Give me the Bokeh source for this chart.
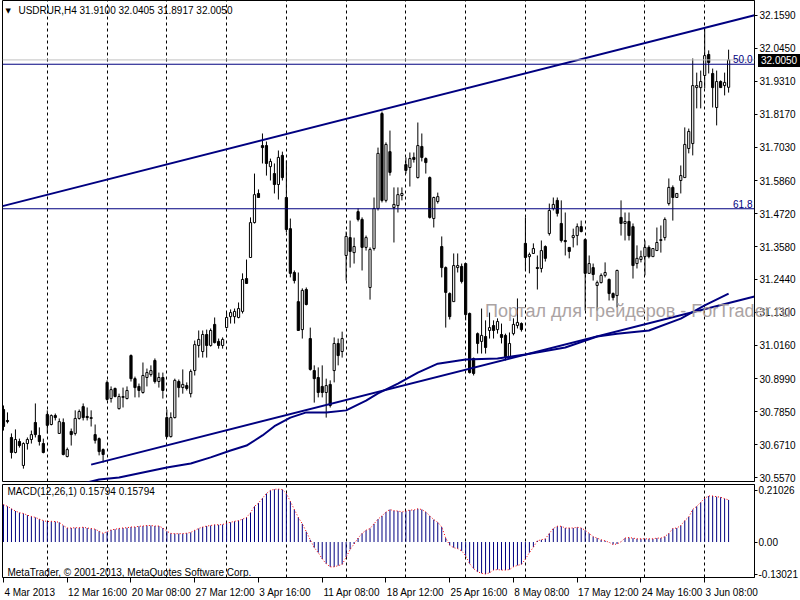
from bokeh.plotting import figure
from bokeh.models import Range1d, FixedTicker, NumeralTickFormatter, Label, Span, Grid, ColumnDataSource, Div
from bokeh.layouts import column
from bokeh.embed import file_html
from bokeh.resources import INLINE

# ---------------- data ----------------
symbol_header = "USDRUR,H4  31.9100 32.0405 31.8917 32.0050"
macd_header = "MACD(12,26,1) 0.15794 0.15794"
copyright_text = "MetaTrader, \u00a9 2001-2013, MetaQuotes Software Corp."
watermark = "Портал для трейдеров - ForTrader.ru"

date_labels = ["4 Mar 2013", "12 Mar 16:00", "20 Mar 08:00", "27 Mar 12:00", "3 Apr 16:00",
               "11 Apr 08:00", "18 Apr 12:00", "25 Apr 16:00", "8 May 08:00", "17 May 12:00",
               "24 May 16:00", "3 Jun 08:00"]
date_label_bars = [0, 16, 32, 48, 64, 80, 96, 112, 128, 144, 160, 176]

price_ticks = [32.159, 32.045, 31.931, 31.817, 31.703, 31.586, 31.472, 31.358, 31.244,
               31.130, 31.016, 30.899, 30.785, 30.671, 30.557]
macd_ticks = [0.21026, 0.0, -0.13021]
macd_tick_text = ["0.21026", "0.00", "-0.13021"]
bid_price = 32.005
bid_text = "32.0050"
fib_names = ["50.0", "61.8"]
fib_prices = [31.990, 31.489]

upper_trend_bars = [0, 182]
upper_trend_prices = [31.499, 32.137]
lower_trend_bars = [22, 182]
lower_trend_prices = [30.602, 31.162]

ma_bars = [18, 24, 29, 41, 47, 52, 57, 61, 65, 68, 72, 76, 81, 86, 91, 94, 99, 104, 109,
           116, 124, 131, 141, 149, 154, 162, 170, 176, 182]
ma_vals = [30.530, 30.550, 30.557, 30.592, 30.606, 30.627, 30.651, 30.668, 30.703, 30.735,
           30.765, 30.783, 30.783, 30.790, 30.824, 30.849, 30.883, 30.921, 30.952, 30.966,
           30.970, 30.984, 31.008, 31.046, 31.056, 31.067, 31.108, 31.154, 31.195]

opens = [30.793, 30.755, 30.696, 30.644, 30.682, 30.599, 30.675, 30.689, 30.748, 30.703,
         30.675, 30.776, 30.741, 30.772, 30.710, 30.748, 30.630, 30.717, 30.710, 30.762,
         30.803, 30.769, 30.762, 30.706, 30.692, 30.654, 30.887, 30.831, 30.866, 30.796,
         30.835, 30.831, 30.980, 30.900, 30.873, 30.852, 30.904, 30.914, 30.963, 30.890,
         30.904, 30.765, 30.699, 30.765, 30.890, 30.869, 30.876, 30.848, 30.928, 31.015,
         30.994, 31.053, 31.015, 31.088, 31.029, 31.015, 31.077, 31.115, 31.115, 31.112,
         31.133, 31.247, 31.320, 31.441, 31.542, 31.708, 31.708, 31.635, 31.611, 31.573,
         31.674, 31.528, 31.420, 31.268, 31.167, 31.070, 31.209, 31.039, 30.928, 30.904,
         30.873, 30.852, 30.880, 30.928, 31.022, 30.994, 31.327, 31.389, 31.337, 31.479,
         31.452, 31.355, 31.216, 31.351, 31.490, 31.819, 31.518, 31.687, 31.493, 31.500,
         31.535, 31.642, 31.632, 31.667, 31.597, 31.705, 31.663, 31.597, 31.455, 31.514,
         31.358, 31.285, 31.195, 31.167, 31.285, 31.289, 31.299, 31.126, 30.970, 31.056,
         31.029, 31.046, 31.067, 31.084, 31.070, 31.053, 31.050, 30.973, 31.056, 31.084,
         31.091, 31.369, 31.323, 31.334, 31.285, 31.282, 31.358, 31.403, 31.490, 31.518,
         31.438, 31.379, 31.355, 31.389, 31.396, 31.427, 31.382, 31.265, 31.285, 31.223,
         31.233, 31.258, 31.244, 31.195, 31.188, 31.459, 31.438, 31.445, 31.427, 31.299,
         31.313, 31.323, 31.355, 31.323, 31.344, 31.379, 31.389, 31.507, 31.563, 31.528,
         31.587, 31.597, 31.698, 31.715, 31.909, 31.909, 31.951, 32.024, 31.958, 31.840,
         31.930, 31.916, 31.910]
highs = [30.807, 30.783, 30.710, 30.724, 30.692, 30.679, 30.696, 30.720, 30.814, 30.731,
         30.692, 30.790, 30.776, 30.779, 30.762, 30.762, 30.661, 30.727, 30.790, 30.793,
         30.814, 30.800, 30.790, 30.741, 30.696, 30.658, 30.894, 30.873, 30.869, 30.848,
         30.869, 30.873, 30.984, 30.907, 30.883, 30.956, 30.935, 30.946, 30.970, 30.921,
         30.921, 30.793, 30.783, 30.900, 30.897, 30.932, 30.887, 30.932, 31.032, 31.067,
         31.067, 31.070, 31.074, 31.112, 31.039, 31.043, 31.129, 31.140, 31.143, 31.164,
         31.265, 31.313, 31.459, 31.611, 31.556, 31.750, 31.722, 31.663, 31.646, 31.691,
         31.687, 31.656, 31.455, 31.275, 31.268, 31.213, 31.216, 31.077, 30.946, 30.939,
         30.946, 30.900, 30.894, 31.043, 31.039, 31.063, 31.410, 31.448, 31.389, 31.490,
         31.459, 31.396, 31.355, 31.528, 31.701, 31.826, 31.719, 31.760, 31.563, 31.563,
         31.563, 31.667, 31.684, 31.684, 31.788, 31.750, 31.667, 31.601, 31.531, 31.545,
         31.393, 31.289, 31.199, 31.334, 31.334, 31.299, 31.299, 31.129, 30.973, 31.060,
         31.143, 31.102, 31.129, 31.102, 31.109, 31.091, 31.056, 31.060, 31.109, 31.178,
         31.095, 31.459, 31.337, 31.369, 31.327, 31.379, 31.362, 31.507, 31.528, 31.528,
         31.518, 31.476, 31.355, 31.420, 31.438, 31.448, 31.386, 31.327, 31.299, 31.240,
         31.265, 31.303, 31.247, 31.199, 31.278, 31.518, 31.476, 31.476, 31.438, 31.362,
         31.344, 31.379, 31.362, 31.351, 31.424, 31.431, 31.459, 31.594, 31.570, 31.542,
         31.639, 31.771, 31.767, 32.010, 31.961, 31.968, 32.114, 32.038, 31.975, 31.968,
         31.934, 31.961, 32.0405]
lows = [30.720, 30.745, 30.623, 30.641, 30.661, 30.588, 30.654, 30.675, 30.696, 30.668,
        30.641, 30.710, 30.738, 30.755, 30.710, 30.634, 30.627, 30.668, 30.703, 30.758,
        30.755, 30.755, 30.734, 30.675, 30.634, 30.609, 30.824, 30.817, 30.835, 30.793,
        30.800, 30.828, 30.890, 30.835, 30.835, 30.848, 30.873, 30.907, 30.883, 30.869,
        30.831, 30.696, 30.696, 30.762, 30.835, 30.848, 30.859, 30.835, 30.911, 30.973,
        30.973, 30.973, 31.011, 31.022, 31.004, 31.004, 31.077, 31.091, 31.091, 31.109,
        31.126, 31.230, 31.320, 31.438, 31.528, 31.646, 31.604, 31.587, 31.542, 31.521,
        31.587, 31.407, 31.251, 31.230, 31.067, 31.039, 31.154, 30.928, 30.817, 30.835,
        30.835, 30.765, 30.800, 30.887, 30.946, 30.973, 31.240, 31.285, 31.299, 31.445,
        31.275, 31.344, 31.174, 31.344, 31.483, 31.511, 31.511, 31.604, 31.372, 31.476,
        31.518, 31.611, 31.566, 31.649, 31.594, 31.653, 31.611, 31.455, 31.424, 31.507,
        31.251, 31.077, 31.105, 31.167, 31.268, 31.230, 31.102, 30.918, 30.911, 30.987,
        30.987, 30.987, 31.039, 31.039, 31.056, 31.022, 30.963, 30.970, 31.050, 31.074,
        31.063, 31.275, 31.265, 31.334, 31.209, 31.268, 31.306, 31.396, 31.483, 31.462,
        31.372, 31.327, 31.317, 31.355, 31.362, 31.407, 31.136, 31.265, 31.240, 31.136,
        31.230, 31.251, 31.171, 31.171, 31.147, 31.396, 31.379, 31.379, 31.247, 31.282,
        31.303, 31.258, 31.317, 31.323, 31.344, 31.337, 31.379, 31.500, 31.448, 31.528,
        31.542, 31.597, 31.681, 31.674, 31.837, 31.837, 31.906, 31.958, 31.840, 31.778,
        31.909, 31.882, 31.8917]
closes = [30.734, 30.751, 30.644, 30.689, 30.668, 30.675, 30.689, 30.706, 30.706, 30.682,
          30.644, 30.738, 30.772, 30.765, 30.751, 30.637, 30.654, 30.706, 30.762, 30.786,
          30.765, 30.765, 30.765, 30.686, 30.647, 30.637, 30.828, 30.862, 30.838, 30.838,
          30.838, 30.859, 30.900, 30.869, 30.859, 30.911, 30.921, 30.928, 30.890, 30.904,
          30.859, 30.699, 30.765, 30.894, 30.869, 30.880, 30.866, 30.925, 31.018, 31.036,
          31.053, 31.015, 31.067, 31.025, 31.015, 31.036, 31.112, 31.129, 31.133, 31.143,
          31.244, 31.230, 31.441, 31.538, 31.528, 31.701, 31.646, 31.653, 31.573, 31.667,
          31.597, 31.417, 31.265, 31.240, 31.067, 31.206, 31.157, 30.932, 30.900, 30.852,
          30.852, 30.876, 30.807, 31.022, 30.980, 31.039, 31.393, 31.341, 31.358, 31.452,
          31.355, 31.389, 31.348, 31.490, 31.681, 31.518, 31.712, 31.615, 31.504, 31.538,
          31.542, 31.622, 31.663, 31.660, 31.708, 31.667, 31.649, 31.459, 31.528, 31.531,
          31.285, 31.199, 31.115, 31.292, 31.292, 31.237, 31.122, 30.921, 30.918, 31.022,
          31.050, 31.008, 31.077, 31.067, 31.098, 31.043, 30.973, 31.022, 31.088, 31.095,
          31.070, 31.320, 31.330, 31.351, 31.282, 31.344, 31.317, 31.483, 31.504, 31.473,
          31.379, 31.375, 31.341, 31.396, 31.427, 31.410, 31.265, 31.299, 31.261, 31.233,
          31.258, 31.268, 31.195, 31.181, 31.275, 31.438, 31.445, 31.396, 31.292, 31.317,
          31.323, 31.355, 31.323, 31.351, 31.372, 31.382, 31.452, 31.563, 31.528, 31.542,
          31.604, 31.712, 31.757, 31.916, 31.916, 31.930, 32.020, 31.996, 31.909, 31.930,
          31.909, 31.927, 32.005]

macd = [0.152, 0.145, 0.135, 0.126, 0.119, 0.116, 0.109, 0.104, 0.100, 0.093,
        0.087, 0.083, 0.084, 0.083, 0.080, 0.067, 0.057, 0.057, 0.058, 0.058,
        0.060, 0.057, 0.055, 0.052, 0.044, 0.035, 0.042, 0.049, 0.052, 0.055,
        0.057, 0.058, 0.061, 0.061, 0.064, 0.065, 0.067, 0.067, 0.065, 0.065,
        0.057, 0.044, 0.035, 0.034, 0.034, 0.034, 0.036, 0.039, 0.048, 0.055,
        0.061, 0.065, 0.067, 0.070, 0.070, 0.071, 0.077, 0.080, 0.084, 0.087,
        0.093, 0.100, 0.119, 0.145, 0.158, 0.178, 0.197, 0.210, 0.214, 0.215,
        0.213, 0.197, 0.165, 0.132, 0.100, 0.074, 0.042, 0.009, -0.023, -0.043,
        -0.069, -0.088, -0.101, -0.101, -0.096, -0.091, -0.062, -0.030, -0.008, 0.016,
        0.035, 0.048, 0.055, 0.074, 0.093, 0.106, 0.122, 0.132, 0.127, 0.126,
        0.122, 0.126, 0.130, 0.130, 0.135, 0.132, 0.122, 0.106, 0.091, 0.080,
        0.061, 0.016, -0.013, -0.023, -0.027, -0.036, -0.056, -0.088, -0.108, -0.121,
        -0.127, -0.130, -0.125, -0.114, -0.112, -0.114, -0.114, -0.112, -0.101, -0.095,
        -0.091, -0.069, -0.043, -0.021, 0.005, 0.009, 0.013, 0.035, 0.055, 0.064,
        0.064, 0.057, 0.057, 0.057, 0.060, 0.057, 0.048, 0.035, 0.022, 0.016,
        0.009, 0.005, -0.001, -0.010, -0.008, 0.001, 0.016, 0.018, 0.016, 0.013,
        0.013, 0.013, 0.013, 0.013, 0.016, 0.016, 0.022, 0.035, 0.055, 0.057,
        0.067, 0.087, 0.102, 0.132, 0.145, 0.161, 0.178, 0.187, 0.187, 0.184,
        0.182, 0.176, 0.171]

# ---------------- geometry / style ----------------
N = len(opens)
bars = list(range(N))
W, H1, H2 = 800, 484, 116
FRAME_W = 755
BAR_PX = 4.0
X0 = -0.25
X1 = X0 + FRAME_W / BAR_PX
P_TOP, P_BOT = 32.211, 30.5434      # price pane frame: y 0 .. 481 px
M_TOP, M_BOT = 0.2336, -0.1441      # macd pane frame: y 484 .. 581 px
NAVY = "#000080"
FONT = "Liberation Sans"
LABEL_PX = 10
# approximate advance widths of Liberation Sans (per 1000 em) to centre date labels
CHAR_W = {"M": 833, "A": 667, "J": 500, "a": 556, "r": 333, "p": 556, "y": 500, "u": 556,
          "n": 556, " ": 278, ":": 278}


def text_width(s):
    return sum(CHAR_W.get(ch, 556) for ch in s) * LABEL_PX / 1000.0


def xp(px):
    return X0 + (px - 2) / BAR_PX


def yp(py):
    return P_TOP - py * (P_TOP - P_BOT) / 481.0


def ym(py):
    return M_TOP - (py - 484) * (M_TOP - M_BOT) / 97.0


def style_right_axis(ax):
    ax.major_tick_out = 3
    ax.major_tick_in = 0
    ax.minor_tick_out = 0
    ax.minor_tick_in = 0
    ax.major_label_standoff = 2
    ax.major_label_text_font = FONT
    ax.major_label_text_font_size = "%dpx" % LABEL_PX
    ax.major_label_text_color = "black"
    ax.axis_line_color = "black"
    ax.major_tick_line_color = "black"


grid_bars = list(range(11, N, 15))

# ---------------- price pane ----------------
p = figure(width=W, height=H1, x_range=Range1d(X0, X1), y_range=Range1d(P_BOT, P_TOP),
           x_axis_location=None, y_axis_location="right", toolbar_location=None,
           output_backend="svg", min_border_left=2, min_border_right=43,
           min_border_top=0, min_border_bottom=3)
p.grid.visible = False
p.outline_line_color = "black"
p.outline_line_width = 1
p.background_fill_color = "white"
p.border_fill_color = "white"
pax = p.yaxis[0]
pax.ticker = FixedTicker(ticks=price_ticks)
pax.formatter = NumeralTickFormatter(format="0.0000")
style_right_axis(pax)
p.add_layout(Grid(dimension=0, ticker=FixedTicker(ticks=grid_bars), grid_line_color="black",
                  grid_line_dash="3 3", grid_line_width=1))

# bid line and fibo levels
p.add_layout(Span(location=bid_price, dimension="width", line_color="#c0c0c0", line_width=1))
for lvl in fib_prices:
    p.add_layout(Span(location=lvl, dimension="width", line_color=NAVY, line_width=1))
for name, lvl in zip(fib_names, fib_prices):
    p.add_layout(Label(x=xp(755), y=lvl, text=name, text_font=FONT, text_font_size="10px",
                       text_color=NAVY, text_align="right", text_baseline="bottom", y_offset=1))

# candles
tops = [max(o, c) for o, c in zip(opens, closes)]
bots = [min(o, c) for o, c in zip(opens, closes)]
fills = ["white" if c >= o else "black" for o, c in zip(opens, closes)]
src = ColumnDataSource(dict(x=bars, h=highs, l=lows, top=tops, bot=bots, fill=fills))
p.segment(x0="x", y0="h", x1="x", y1="l", source=src, line_color="black", line_width=1)
p.vbar(x="x", width=0.55, top="top", bottom="bot", fill_color="fill", line_color="black",
       line_width=1, source=src)


# trend channel (rays extended to the frame edges)
def extend(bx, py, x_from, x_to):
    slope = (py[1] - py[0]) / (bx[1] - bx[0])
    return [x_from, x_to], [py[0] + slope * (x_from - bx[0]), py[0] + slope * (x_to - bx[0])]


ux, uy = extend(upper_trend_bars, upper_trend_prices, X0, X1)
lx, ly = extend(lower_trend_bars, lower_trend_prices, lower_trend_bars[0], X1)
p.line(ux, uy, line_color=NAVY, line_width=2)
p.line(lx, ly, line_color=NAVY, line_width=2)
p.line(ma_bars, ma_vals, line_color=NAVY, line_width=2)

# header texts
p.add_layout(Label(x=xp(5), y=yp(10), text="\u25bc", text_font="DejaVu Sans", text_font_size="7px",
                   text_color="black", text_baseline="middle"))
p.add_layout(Label(x=xp(18), y=yp(10), text=symbol_header, text_font=FONT, text_font_size="10px",
                   text_color="black", text_baseline="middle"))

# ---------------- MACD pane ----------------
m = figure(width=W, height=H2, x_range=p.x_range, y_range=Range1d(M_BOT, M_TOP),
           x_axis_location="below", y_axis_location="right", toolbar_location=None,
           output_backend="svg", min_border_left=2, min_border_right=43,
           min_border_top=0, min_border_bottom=19)
m.grid.visible = False
m.outline_line_color = "black"
m.background_fill_color = "white"
m.border_fill_color = "white"
may = m.yaxis[0]
may.ticker = FixedTicker(ticks=macd_ticks)
may.major_label_overrides = {t: s for t, s in zip(macd_ticks, macd_tick_text)}
style_right_axis(may)
may.major_label_standoff = 1

# date labels: left edge of each label sits on its bar (MetaTrader style)
label_ticks = [b + (text_width(t) / 2.0 + 1) / BAR_PX for b, t in zip(date_label_bars, date_labels)]
xax = m.xaxis[0]
xax.ticker = FixedTicker(ticks=label_ticks, minor_ticks=date_label_bars)
xax.major_label_overrides = {k: t for k, t in zip(label_ticks, date_labels)}
xax.major_label_text_font = FONT
xax.major_label_text_font_size = "%dpx" % LABEL_PX
xax.major_label_text_color = "black"
xax.major_label_standoff = 4
xax.axis_line_color = None
xax.major_tick_line_color = None
xax.major_tick_out = 0
xax.major_tick_in = 0
xax.minor_tick_out = 5
xax.minor_tick_in = 0
xax.minor_tick_line_color = "black"
m.add_layout(Grid(dimension=0, ticker=FixedTicker(ticks=grid_bars), grid_line_color="black",
                  grid_line_dash="3 3", grid_line_width=1))

m.segment(x0=bars, y0=[0.0] * N, x1=bars, y1=macd, line_color=NAVY, line_width=1)
m.line(bars, macd, line_color="red", line_width=1, line_dash="1 2")

m.add_layout(Label(x=xp(7), y=ym(491), text=macd_header, text_font=FONT, text_font_size="10px",
                   text_color="black", text_baseline="middle"))
m.add_layout(Label(x=xp(7), y=ym(576), text=copyright_text, text_font=FONT, text_font_size="10px",
                   text_color="black", text_baseline="middle"))

# overlays that sit across the price axis (not clipped to the frame)
price_box = Div(text=bid_text, width=43, height=13,
                styles={"position": "absolute", "left": "753px", "top": "49px",
                        "background-color": "black", "color": "white",
                        "font-family": FONT, "font-size": "10px", "line-height": "13px",
                        "padding-left": "3px", "white-space": "nowrap", "overflow": "visible"})
wm = Div(text=watermark,
         styles={"position": "absolute", "left": "480px", "top": "297px",
                 "color": "#a39a9a", "opacity": "0.9", "font-family": FONT,
                 "font-size": "18px", "line-height": "18px", "white-space": "nowrap",
                 "pointer-events": "none"})

layout = column(p, m, price_box, wm, spacing=0)
open("out.html", "w").write(file_html(layout, INLINE))
